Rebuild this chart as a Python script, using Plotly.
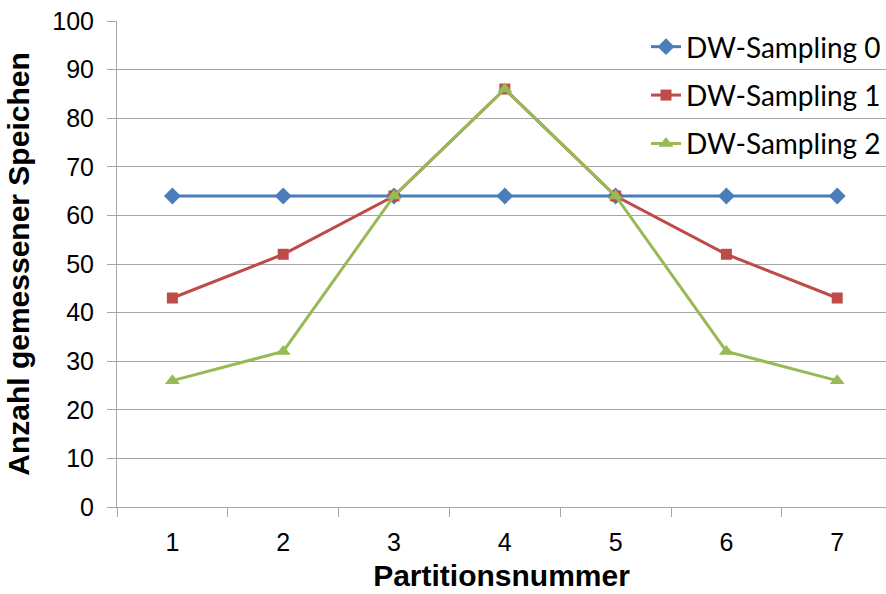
import plotly.graph_objects as go

partitions = [1, 2, 3, 4, 5, 6, 7]
dw0 = [64, 64, 64, 64, 64, 64, 64]
dw1 = [43, 52, 64, 86, 64, 52, 43]
dw2 = [26, 32, 64, 86, 64, 32, 26]
names = ["DW-Sampling 0", "DW-Sampling 1", "DW-Sampling 2"]
colors = ["#4A7EBB", "#BE4B48", "#98B954"]
symbols = ["diamond", "square", "triangle-up"]
sizes = [13, 11, 13]

fig = go.Figure()
for i, (vals, nm) in enumerate(zip([dw0, dw1, dw2], names)):
    fig.add_trace(go.Scatter(
        x=partitions, y=vals, name=nm, mode="lines+markers",
        line=dict(color=colors[i], width=3),
        marker=dict(symbol=symbols[i], size=sizes[i], color=colors[i]),
        legendgroup=nm, cliponaxis=False,
    ))

grid = "#A6A6A6"
fig.update_layout(
    width=886, height=594,
    margin=dict(l=117, r=0, t=21, b=87),
    plot_bgcolor="white", paper_bgcolor="white",
    font=dict(family="Liberation Sans, Arial", size=25, color="black"),
    showlegend=True,
    legend=dict(x=1, xanchor="right", y=0.998, yanchor="top",
                bgcolor="rgba(0,0,0,0)", tracegroupgap=9,
                font=dict(family="Lato, Open Sans", size=28, color="black"),
                itemwidth=30),
    xaxis=dict(
        range=[0.5, 0.5 + (886 - 117) / 110.8],
        tickvals=partitions, ticktext=[str(p) for p in partitions],
        ticks="", showgrid=False, zeroline=False,
        showline=True, linecolor=grid, linewidth=1,
        minor=dict(tickvals=[0.5, 1.5, 2.5, 3.5, 4.5, 5.5, 6.5],
                   ticks="outside", ticklen=9, tickcolor=grid, showgrid=False),
        ticklabelstandoff=13,
        title=dict(text="<b>Partitionsnummer</b>", font=dict(size=30), standoff=9),
        tickfont=dict(size=25),
    ),
    yaxis=dict(
        range=[0, 100], dtick=10, tick0=0,
        ticks="outside", ticklen=9, tickcolor=grid,
        showgrid=True, gridcolor=grid, gridwidth=1,
        zeroline=False, showline=True, linecolor=grid, linewidth=1,
        ticklabelstandoff=8,
        title=dict(text="<b>Anzahl gemessener Speichen</b>", font=dict(size=30), standoff=13),
        tickfont=dict(size=25),
    ),
)
fig.write_html("out.html")
